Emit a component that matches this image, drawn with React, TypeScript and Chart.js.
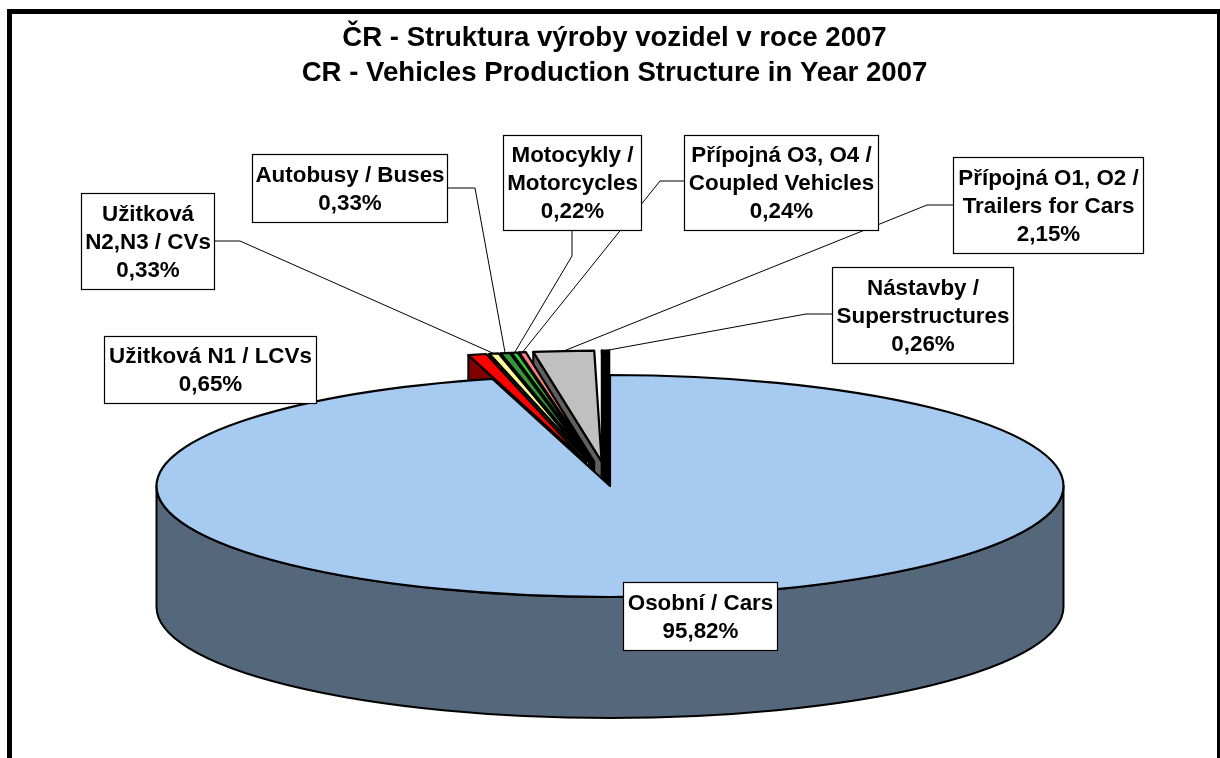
import React, { useEffect, useRef } from "react";
import { Chart, registerables } from "chart.js";

Chart.register(...registerables);

// ---------------- data ----------------
const titleLines = [
  "ČR - Struktura výroby vozidel v roce 2007",
  "CR - Vehicles Production Structure in Year 2007",
];

const categories = [
  "Osobní / Cars",
  "Užitková N1 / LCVs",
  "Užitková N2,N3 / CVs",
  "Autobusy / Buses",
  "Motocykly / Motorcycles",
  "Přípojná O3, O4 / Coupled Vehicles",
  "Přípojná O1, O2 / Trailers for Cars",
  "Nástavby / Superstructures",
];

const shares = [95.82, 0.65, 0.33, 0.33, 0.22, 0.24, 2.15, 0.26];

// wrapped label text (as printed in the callouts)
const labelLines = [
  ["Osobní / Cars"],
  ["Užitková N1 / LCVs"],
  ["Užitková", "N2,N3 / CVs"],
  ["Autobusy / Buses"],
  ["Motocykly /", "Motorcycles"],
  ["Přípojná O3, O4 /", "Coupled Vehicles"],
  ["Přípojná O1, O2 /", "Trailers for Cars"],
  ["Nástavby /", "Superstructures"],
];

// ---------------- style ----------------
const sliceColors = [
  "#A6CAF0",
  "#FF0000",
  "#FFFF99",
  "#339933",
  "#33CC33",
  "#FF8080",
  "#C0C0C0",
  "#000000",
];
const explode = [0, 0.22, 0.22, 0.22, 0.22, 0.22, 0.22, 0.22];

const CANVAS_LEFT = 12;
const CANVAS_TOP = 14;
const CANVAS_W = 1205;
const CANVAS_H = 750;
const PIE = { cx: 610, cy: 486, rx: 453.5, ry: 111, depth: 121 };
const FONT = '"Liberation Sans", Arial, sans-serif';

// callout boxes in page coordinates [left, top, right, bottom], leader polyline start points
const boxes: { b: number[]; leader: number[][] | null }[] = [
  { b: [623, 582, 777, 650], leader: null },
  { b: [104, 336, 316, 403], leader: null },
  { b: [81, 193, 214, 289], leader: [[214, 241], [240, 241]] },
  { b: [252, 154, 447, 222], leader: [[447, 188], [475, 188]] },
  { b: [503, 135, 641, 230], leader: [[572, 230], [572, 256]] },
  { b: [684, 135, 878, 230], leader: [[684, 181], [660, 181]] },
  { b: [953, 157, 1143, 253], leader: [[953, 205], [927, 205]] },
  { b: [832, 267, 1013, 363], leader: [[832, 314], [806, 314]] },
];

function darken(hex: string, f = 0.5) {
  const n = parseInt(hex.slice(1), 16);
  const r = Math.round(((n >> 16) & 255) * f);
  const g = Math.round(((n >> 8) & 255) * f);
  const b = Math.round((n & 255) * f);
  return `rgb(${r},${g},${b})`;
}

function pct(v: number) {
  return v.toFixed(2).replace(".", ",") + "%";
}

type G = {
  arc: any;
  i: number;
  a1: number;
  a2: number;
  mid: number;
  ccx: number;
  ccy: number;
  kx: number;
  ky: number;
  x: number;
  y: number;
};

function geometry(chart: any): G[] {
  const meta = chart.getDatasetMeta(0);
  const cx = PIE.cx - CANVAS_LEFT;
  const cy = PIE.cy - CANVAS_TOP;
  return meta.data.map((arc: any, i: number) => {
    const p = arc.getProps(["x", "y", "startAngle", "endAngle", "outerRadius"], true);
    const mid = (p.startAngle + p.endAngle) / 2;
    const e = explode[i] || 0;
    return {
      arc,
      i,
      a1: p.startAngle,
      a2: p.endAngle,
      mid,
      ccx: cx + e * PIE.rx * Math.cos(mid),
      ccy: cy + e * PIE.ry * Math.sin(mid),
      kx: PIE.rx / p.outerRadius,
      ky: PIE.ry / p.outerRadius,
      x: p.x,
      y: p.y,
    };
  });
}

function pt(g: G, a: number, dz = 0) {
  return [g.ccx + PIE.rx * Math.cos(a), g.ccy + PIE.ry * Math.sin(a) + dz];
}

const pie3d = {
  id: "pie3d",
  beforeDatasetsDraw(chart: any) {
    const ctx: CanvasRenderingContext2D = chart.ctx;
    const dpr = chart.currentDevicePixelRatio || 1;
    const gs = geometry(chart);
    const D = PIE.depth;
    ctx.save();
    ctx.lineWidth = 2;
    ctx.strokeStyle = "#000";
    ctx.lineJoin = "round";

    // radial side faces (back to front: last slice first)
    for (let k = gs.length - 1; k >= 0; k--) {
      const g = gs[k];
      const side = darken(sliceColors[g.i]);
      const faces: number[] = [];
      if (Math.cos(g.a1) < -1e-6) faces.push(g.a1);
      if (Math.cos(g.a2) > 1e-6) faces.push(g.a2);
      for (const a of faces) {
        const p = pt(g, a);
        ctx.beginPath();
        ctx.moveTo(g.ccx, g.ccy);
        ctx.lineTo(p[0], p[1]);
        ctx.lineTo(p[0], p[1] + D);
        ctx.lineTo(g.ccx, g.ccy + D);
        ctx.closePath();
        ctx.fillStyle = side;
        ctx.fill();
        ctx.stroke();
      }
    }

    // front outer walls
    for (const g of gs) {
      const side = darken(sliceColors[g.i], 0.51);
      for (let n = -1; n <= 2; n++) {
        const lo = Math.max(g.a1, 2 * Math.PI * n);
        const hi = Math.min(g.a2, 2 * Math.PI * n + Math.PI);
        if (hi > lo + 1e-6) {
          ctx.beginPath();
          ctx.ellipse(g.ccx, g.ccy, PIE.rx, PIE.ry, 0, lo, hi, false);
          const q = pt(g, hi, D);
          ctx.lineTo(q[0], q[1]);
          ctx.ellipse(g.ccx, g.ccy + D, PIE.rx, PIE.ry, 0, hi, lo, true);
          ctx.closePath();
          ctx.fillStyle = side;
          ctx.fill();
          ctx.stroke();
        }
      }
    }
    ctx.restore();

    // top faces drawn by the library's arc elements, mapped onto the ellipse
    for (const g of gs) {
      ctx.save();
      ctx.setTransform(
        g.kx * dpr,
        0,
        0,
        g.ky * dpr,
        (g.ccx - g.x * g.kx) * dpr,
        (g.ccy - g.y * g.ky) * dpr
      );
      g.arc.draw(ctx);
      ctx.restore();
    }

    // top outlines
    ctx.save();
    ctx.lineWidth = 2.2;
    ctx.strokeStyle = "#000";
    ctx.lineJoin = "round";
    for (const g of gs) {
      ctx.beginPath();
      ctx.moveTo(g.ccx, g.ccy);
      ctx.ellipse(g.ccx, g.ccy, PIE.rx, PIE.ry, 0, g.a1, g.a2, false);
      ctx.closePath();
      ctx.stroke();
    }
    ctx.restore();
    return false;
  },
  afterDraw(chart: any) {
    const ctx: CanvasRenderingContext2D = chart.ctx;
    const gs = geometry(chart);
    ctx.save();
    // leaders
    ctx.lineWidth = 1;
    ctx.strokeStyle = "#000";
    gs.forEach((g, i) => {
      const L = boxes[i].leader;
      if (!L) return;
      const end = pt(g, g.mid);
      ctx.beginPath();
      ctx.moveTo(L[0][0] - CANVAS_LEFT, L[0][1] - CANVAS_TOP);
      for (let k = 1; k < L.length; k++) ctx.lineTo(L[k][0] - CANVAS_LEFT, L[k][1] - CANVAS_TOP);
      ctx.lineTo(end[0], end[1]);
      ctx.stroke();
    });
    // boxes
    ctx.font = `bold 22.4px ${FONT}`;
    ctx.textAlign = "center";
    ctx.textBaseline = "middle";
    categories.forEach((_, i) => {
      const [l, t, r, b] = boxes[i].b;
      const x1 = Math.round(l - CANVAS_LEFT) + 0.5;
      const y1 = Math.round(t - CANVAS_TOP) + 0.5;
      const w = r - l;
      const h = b - t;
      ctx.fillStyle = "#fff";
      ctx.fillRect(x1, y1, w, h);
      ctx.strokeStyle = "#000";
      ctx.lineWidth = 1.2;
      ctx.strokeRect(x1, y1, w, h);
      const lines = [...labelLines[i], pct(shares[i])];
      const lh = 28;
      const cy = y1 + h / 2;
      const cx = x1 + w / 2;
      ctx.fillStyle = "#000";
      lines.forEach((s, k) => {
        ctx.fillText(s, cx, cy + (k - (lines.length - 1) / 2) * lh + 1);
      });
    });
    ctx.restore();
  },
};

export default function App() {
  const ref = useRef<HTMLCanvasElement | null>(null);
  useEffect(() => {
    if (!ref.current) return;
    const chart = new Chart(ref.current, {
      type: "pie",
      data: {
        labels: categories,
        datasets: [
          {
            data: shares,
            backgroundColor: sliceColors,
            borderWidth: 0,
            clip: false as any,
          },
        ],
      },
      options: {
        responsive: false,
        animation: false,
        events: [],
        layout: { padding: 0 },
        plugins: {
          legend: { display: false },
          tooltip: { enabled: false },
          title: {
            display: true,
            text: titleLines,
            color: "#000",
            font: { family: FONT, size: 27.6, weight: "bold", lineHeight: 1.27 },
            padding: { top: 7, bottom: 0 },
          },
        },
      },
      plugins: [pie3d as any],
    });
    return () => chart.destroy();
  }, []);

  return (
    <div
      style={{
        position: "fixed",
        left: 0,
        top: 0,
        width: 1220,
        height: 758,
        overflow: "hidden",
        background: "#fff",
      }}
    >
      <div
        style={{
          position: "absolute",
          left: 7,
          top: 9,
          width: CANVAS_W,
          height: CANVAS_H,
          border: "5px solid #000",
          background: "#fff",
        }}
      >
        <canvas
          ref={ref}
          width={CANVAS_W}
          height={CANVAS_H}
          style={{ display: "block", width: CANVAS_W, height: CANVAS_H }}
        />
      </div>
    </div>
  );
}
